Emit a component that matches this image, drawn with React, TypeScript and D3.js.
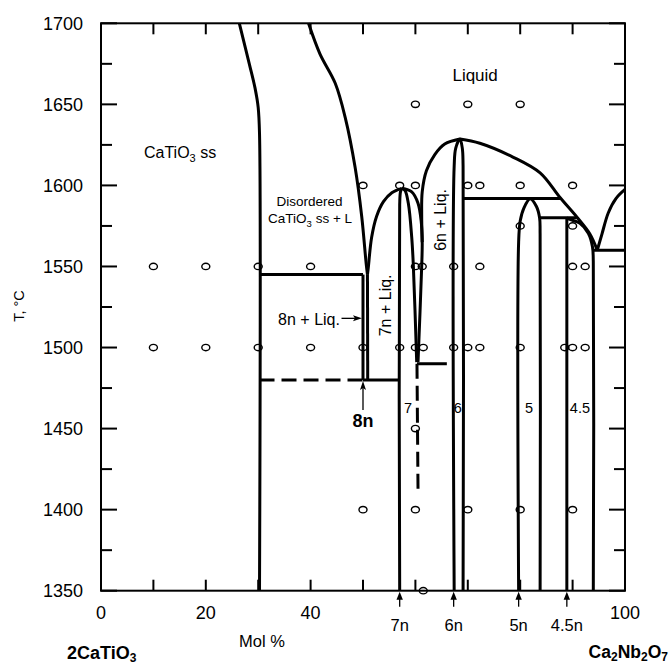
import React from "react";
import * as d3 from "d3";

type Pt = [number, number];

// axes: composition in mol % Ca2Nb2O7, temperature in °C
const xTicks = [10, 20, 30, 40, 50, 60, 70, 80, 90];
const xTickLabels = [0, 20, 40, 100];
const yTicks = d3.range(1350, 1701, 25);
const yTickLabels = [1350, 1400, 1450, 1500, 1550, 1600, 1650, 1700];

// experimental points (composition) at each temperature
const temps = [1650, 1600, 1575, 1550, 1500, 1450, 1400, 1350];
const runs1650 = [60, 70, 80];
const runs1600 = [50, 57, 60, 70, 72.3, 80, 90];
const runs1575 = [80, 90];
const runs1550 = [10, 20, 30, 40, 60, 61.3, 67.3, 72.3, 90, 92.4];
const runs1500 = [10, 20, 30, 40, 50, 57, 60, 61.5, 67.3, 70, 72.3, 80, 88.5, 90, 92.4];
const runs1450 = [60];
const runs1400 = [50, 60, 70, 80, 90];
const runs1350 = [61.5];
const runsByTemp = [runs1650, runs1600, runs1575, runs1550, runs1500, runs1450, runs1400, runs1350];

// compounds marked under the axis
const compounds = ["7n", "6n", "5n", "4.5n"];
const compoundX = [57.0, 67.3, 79.7, 88.9];

// phase boundaries [mol %, °C]
const caTiO3Solidus: Pt[] = [[26.4, 1700], [28.3, 1675], [29.4, 1660], [30.0, 1648], [30.25, 1632], [30.25, 1350]];
const caTiO3Liquidus: Pt[] = [[39.6, 1700], [41.8, 1681], [44.7, 1663], [46.6, 1642], [48.5, 1611], [49.75, 1581], [50.6, 1552], [50.85, 1545]];
const line1545: Pt[] = [[30.25, 1545], [50.0, 1545]];
const n8Left: Pt[] = [[50.0, 1545], [50.0, 1480]];
const n8Right: Pt[] = [[50.85, 1545], [50.9, 1480]];
const dashed1480: Pt[] = [[30.25, 1480], [50.0, 1480]];
const solid1480: Pt[] = [[50.0, 1480], [57.0, 1480]];
const n7Liquidus: Pt[] = [[50.85, 1545], [51.0, 1549], [51.65, 1568], [52.6, 1581], [53.9, 1590], [55.5, 1595.5], [57.4, 1598.2]];
const n7Line: Pt[] = [[57.0, 1350], [57.0, 1588], [57.15, 1596], [57.4, 1598.2]];
const n7Inner: Pt[] = [[57.4, 1598.2], [58.0, 1597], [58.65, 1589], [59.3, 1568], [59.6, 1551], [60.25, 1491]];
const n7Outer: Pt[] = [[57.4, 1598.2], [59.3, 1596], [60.5, 1589], [61.1, 1578], [61.3, 1565], [61.2, 1550], [60.5, 1491]];
const line1490: Pt[] = [[60.3, 1490], [66.0, 1490]];
const dashed7: Pt[] = [[60.3, 1490], [60.5, 1412]];
const n6Liquidus: Pt[] = [[61.3, 1565], [61.2, 1582], [61.3, 1596], [62.1, 1609], [63.7, 1619], [65.6, 1625.5], [68.5, 1628.6]];
const n6Loop: Pt[] = [[67.4, 1350], [67.4, 1612], [67.7, 1623], [68.5, 1628.6], [68.95, 1623], [69.1, 1612], [69.1, 1350]];
const n6RightLiquidus: Pt[] = [[68.5, 1628.6], [72.3, 1626], [78.6, 1617.5], [83.8, 1607.7], [87.6, 1592.5], [90.8, 1580.5], [93.3, 1570], [94.7, 1560]];
const line1592: Pt[] = [[69.1, 1592], [87.6, 1592]];
const n5Loop: Pt[] = [[79.7, 1350], [79.7, 1565], [80.0, 1578], [80.7, 1586], [81.9, 1591.8], [83.1, 1587], [83.7, 1580], [83.8, 1570], [83.8, 1350]];
const line1580: Pt[] = [[83.8, 1580], [90.8, 1580]];
const n45Line: Pt[] = [[88.9, 1350], [88.9, 1580]];
const n45Boundary: Pt[] = [[88.9, 1580], [89.5, 1579], [91.4, 1576.6], [93.0, 1570.5], [93.8, 1562], [93.95, 1553], [93.95, 1350]];
const line1560: Pt[] = [[93.95, 1560], [100, 1560]];
const nbLiquidus: Pt[] = [[94.7, 1560], [95.6, 1570], [96.8, 1583], [98.3, 1592], [100, 1597.5]];

const curvedLines = [caTiO3Solidus, caTiO3Liquidus, n7Liquidus, n7Line, n7Inner, n7Outer, n6Liquidus, n6Loop, n6RightLiquidus, n5Loop, n45Boundary, nbLiquidus];
const straightLines = [line1545, n8Left, n8Right, solid1480, line1490, line1592, line1580, n45Line, line1560];
const dashedLines = [dashed1480, dashed7];

export default function App() {
  const width = 670;
  const height = 666;
  const x = d3.scaleLinear().domain([0, 100]).range([101, 625]);
  const y = d3.scaleLinear().domain([1350, 1700]).range([590.7, 23.3]);
  const curve = d3.line<Pt>().x((d) => x(d[0])).y((d) => y(d[1])).curve(d3.curveCatmullRom.alpha(0.5));
  const straight = d3.line<Pt>().x((d) => x(d[0])).y((d) => y(d[1]));
  const font = "'Liberation Sans', Arial, Helvetica, sans-serif";
  const [x0, x1] = x.range();
  const [yb, yt] = y.range();

  return (
    <svg width={width} height={height} style={{ position: "absolute", left: 0, top: 0, background: "#fff" }} fontFamily={font}>
      {/* frame */}
      <rect x={x0} y={yt} width={x1 - x0} height={yb - yt} fill="none" stroke="#000" strokeWidth={2} />

      {/* ticks */}
      {xTicks.map((t) => (
        <g key={"xt" + t} stroke="#000" strokeWidth={2}>
          <line x1={x(t)} x2={x(t)} y1={yt} y2={yt + 11} />
          <line x1={x(t)} x2={x(t)} y1={yb} y2={yb - 11} />
        </g>
      ))}
      {yTicks.map((t) => {
        const len = t % 50 === 0 ? 16 : 11;
        return (
          <g key={"yt" + t} stroke="#000" strokeWidth={2}>
            <line x1={x0} x2={x0 + len} y1={y(t)} y2={y(t)} />
            <line x1={x1} x2={x1 - len} y1={y(t)} y2={y(t)} />
          </g>
        );
      })}
      {yTickLabels.map((t) => (
        <text key={"yl" + t} x={83} y={y(t)} dy="0.35em" textAnchor="end" fontSize={18}>{t}</text>
      ))}
      {xTickLabels.map((t) => (
        <text key={"xl" + t} x={x(t)} y={619} textAnchor="middle" fontSize={18}>{t}</text>
      ))}

      {/* axis titles */}
      <text x={262} y={647} textAnchor="middle" fontSize={16.5}>Mol %</text>
      <text x={67} y={659} fontSize={18} fontWeight="bold">
        2CaTiO<tspan fontSize={12} dy={3}>3</tspan>
      </text>
      <text x={668} y={658} textAnchor="end" fontSize={17.5} fontWeight="bold">
        Ca<tspan fontSize={12} dy={3}>2</tspan><tspan dy={-3}>Nb</tspan><tspan fontSize={12} dy={3}>2</tspan><tspan dy={-3}>O</tspan><tspan fontSize={12} dy={3}>7</tspan>
      </text>
      <text transform="translate(19,306) rotate(-90)" textAnchor="middle" dy="0.35em" fontSize={14.5}>T, °C</text>

      {/* phase boundaries */}
      <g fill="none" stroke="#000" strokeWidth={3} strokeLinejoin="round">
        {curvedLines.map((d, i) => <path key={"c" + i} d={curve(d) || ""} />)}
        {straightLines.map((d, i) => <path key={"s" + i} d={straight(d) || ""} />)}
        {dashedLines.map((d, i) => <path key={"d" + i} d={straight(d) || ""} strokeDasharray="15,7" />)}
      </g>

      {/* experimental runs */}
      <g fill="none" stroke="#000" strokeWidth={1.4}>
        {temps.map((T, i) =>
          runsByTemp[i].map((v) => <ellipse key={T + "-" + v} cx={x(v)} cy={y(T)} rx={4} ry={3.2} />)
        )}
      </g>

      {/* region labels */}
      <text x={x(71.4)} y={y(1664.4)} textAnchor="middle" fontSize={17}>Liquid</text>
      <text x={x(8.2)} y={y(1617)} fontSize={16}>
        CaTiO<tspan fontSize={11} dy={4}>3</tspan><tspan dy={-4}> ss</tspan>
      </text>
      <text x={x(39.8)} y={y(1587.3)} textAnchor="middle" fontSize={13.5}>Disordered</text>
      <text x={x(39.9)} y={y(1576.6)} textAnchor="middle" fontSize={13.5}>
        CaTiO<tspan fontSize={9.5} dy={4}>3</tspan><tspan dy={-4}> ss + L</tspan>
      </text>
      <text x={x(45.6)} y={y(1513.9)} textAnchor="end" fontSize={16}>8n + Liq.</text>
      <text transform={`translate(${x(54.2)},${y(1526)}) rotate(-90)`} textAnchor="middle" dy="0.35em" fontSize={16}>7n + Liq.</text>
      <text transform={`translate(${x(64.7)},${y(1578.7)}) rotate(-90)`} textAnchor="middle" dy="0.35em" fontSize={16}>6n + Liq.</text>
      <text x={x(50)} y={y(1451)} textAnchor="middle" fontSize={18} fontWeight="bold">8n</text>
      <text x={x(58.6)} y={y(1459.6)} textAnchor="middle" fontSize={14.5}>7</text>
      <text x={x(68.1)} y={y(1459.6)} textAnchor="middle" fontSize={14.5}>6</text>
      <text x={x(81.7)} y={y(1459.6)} textAnchor="middle" fontSize={14.5}>5</text>
      <text x={x(91.4)} y={y(1459.6)} textAnchor="middle" fontSize={14.5}>4.5</text>

      {/* arrows */}
      <g stroke="#000" strokeWidth={1.3}>
        <line x1={x(45.9)} x2={x(49.8) - 7} y1={y(1518)} y2={y(1518)} />
        <line x1={x(50)} x2={x(50)} y1={y(1461.4)} y2={y(1479.4) + 7} />
      </g>
      <path d={`M${x(49.8)},${y(1518)} l-9,-3 l2,3 l-2,3 Z`} fill="#000" />
      <path d={`M${x(50)},${y(1479.4)} l-3,9 l3,-2 l3,2 Z`} fill="#000" />
      {compounds.map((c, i) => {
        const cx = x(compoundX[i]);
        return (
          <g key={c}>
            <line x1={cx} x2={cx} y1={yb + 16} y2={yb + 6} stroke="#000" strokeWidth={1.3} />
            <path d={`M${cx},${yb + 1} l-3.2,8 l6.4,0 Z`} fill="#000" />
            <text x={cx} y={631} textAnchor="middle" fontSize={16.5}>{c}</text>
          </g>
        );
      })}
    </svg>
  );
}
